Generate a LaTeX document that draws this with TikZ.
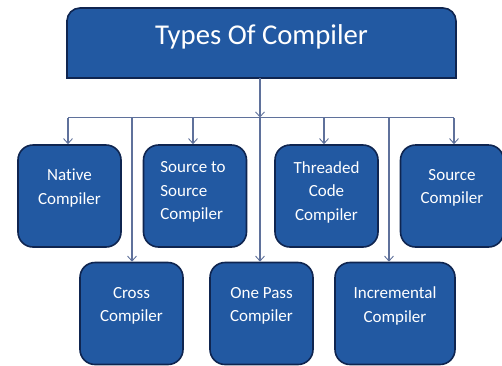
\documentclass[tikz,border=0pt]{standalone}
\usepackage{fontspec}
\setmainfont[Ligatures=NoCommon]{Carlito}
\usetikzlibrary{arrows.meta}
\definecolor{boxfill}{HTML}{2259A2}
\definecolor{boxedge}{HTML}{0F2550}
\definecolor{linec}{HTML}{5F719B}
\tikzset{
  cbox/.style={draw=boxedge, line width=1.6pt, fill=boxfill, rounded corners=15pt, minimum width=103pt, minimum height=102pt, inner sep=0pt},
  ctext/.style={text=white, font=\fontsize{17}{23.5}\selectfont, align=center, inner sep=0pt},
  conn/.style={draw=linec, line width=1.1pt},
  arr/.style={conn, -{Straight Barb[length=5pt,width=9pt,line width=0.9pt]}},
}
\begin{document}
\begin{tikzpicture}[x=1pt,y=-1pt]
\useasboundingbox (0,0) rectangle (502,365);
% title
\path[draw=boxedge, line width=1.6pt, fill=boxfill]
  (67,78) -- (67,20) [rounded corners=13pt] -- (67,8) -- (456,8) [sharp corners] -- (456,78) -- cycle;
\node[inner sep=0pt, text=white, font=\fontsize{28.7}{30}\selectfont] (title) at (261.5,37) {Types Of Compiler};
\coordinate (tb) at (260,78);
% boxes top row
\node[cbox] (nat) at (69.5,196) {};
\node[cbox] (sts) at (195,196) {};
\node[cbox] (thr) at (326.5,196) {};
\node[cbox] (src) at (452,196) {};
% bottom row
\node[cbox] (crs) at (131.5,313.5) {};
\node[cbox] (one) at (261.5,313.5) {};
\node[cbox, minimum width=120pt] (inc) at (395,313.5) {};
% texts
\node[ctext] at (69.5,188) {Native\\Compiler};
\node[ctext, align=left] at (193,192) {Source to\\Source\\Compiler};
\node[ctext] at (326.5,192) {Threaded\\Code\\Compiler};
\node[ctext] at (452,188) {Source\\Compiler};
\node[ctext] at (131.5,306) {Cross\\Compiler};
\node[ctext] at (261.5,306) {One Pass\\Compiler};
\node[ctext] at (395,306) {Incremental\\Compiler};
% bus
\coordinate (bl) at (68,117.5);
\coordinate (br) at (454,117.5);
\coordinate (bm) at (260,117.5);
\draw[conn] (bl) -- (br);
\draw[arr] (tb) -- (bm);
\draw[arr] (bm) -- (bm |- one.north);
\draw[arr] (bl) -- (bl |- nat.north);
\draw[arr] (br) -- (br |- src.north);
\coordinate (b2) at (132,117.5);
\coordinate (b3) at (193,117.5);
\coordinate (b5) at (324,117.5);
\coordinate (b6) at (389,117.5);
\draw[arr] (b2) -- (b2 |- crs.north);
\draw[arr] (b3) -- (b3 |- sts.north);
\draw[arr] (b5) -- (b5 |- thr.north);
\draw[arr] (b6) -- (b6 |- inc.north);
\end{tikzpicture}
\end{document}
